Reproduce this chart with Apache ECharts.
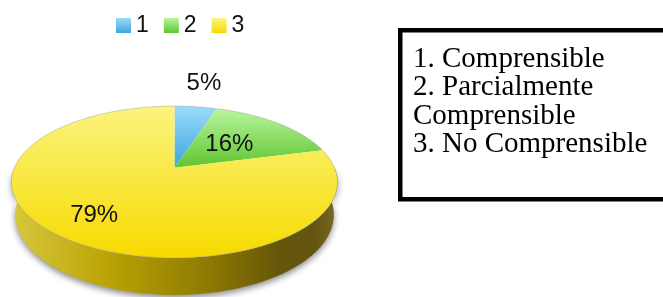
<!DOCTYPE html>
<html>
<head>
<meta charset="utf-8">
<script src="https://cdn.jsdelivr.net/npm/echarts@6/dist/echarts.min.js"></script>
<style>
html,body{margin:0;padding:0;background:#fff;}
#chart{width:663px;height:297px;}
</style>
</head>
<body>
<div id="chart"></div>
<script>
// ---- data ----
const categories = ['1', '2', '3'];
const values = [5, 16, 79];
const valueLabels = ['5%', '16%', '79%'];
const noteLines = ['1. Comprensible', '2. Parcialmente', 'Comprensible', '3. No Comprensible'];

// ---- style ----
const topColors = [['#9adcfa', '#3ca5dc'], ['#b8f69c', '#60c430'], ['#fbf47e', '#f7da00']];

// ---- 3D pie projection (perspective view of a flat cylinder) ----
const CX = 174.5, CY = 167.7;       // projected disk centre
const F = 160.1;                      // focal * R / D
const RD = 0.2115;                    // R / D
const ALPHA = 27.2 * Math.PI / 180;   // view elevation
const H = 0.2316;                     // thickness (in radii)
const SA = Math.sin(ALPHA), CA = Math.cos(ALPHA);

function project(deg, rho, y) {
  const t = deg * Math.PI / 180;
  const X = rho * Math.sin(t), Z = rho * Math.cos(t);
  const den = 1 + RD * (Z * CA - y * SA);
  return [CX + F * X / den, CY - F * (Z * SA + y * CA) / den];
}
function arc(a0, a1, y) {
  const pts = [];
  const n = Math.max(2, Math.ceil(Math.abs(a1 - a0)));
  for (let k = 0; k <= n; k++) pts.push(project(a0 + (a1 - a0) * k / n, 1, y));
  return pts;
}
const total = values.reduce((a, b) => a + b, 0);

function renderItem(params, api) {
  const i = params.seriesIndex;
  let before = 0;
  for (let k = 0; k < i; k++) before += values[k];
  const v = api.value(0);
  const start = before / total * 360;
  const end = (before + v) / total * 360;
  const children = [];

  // visible side wall (front half)
  const a0 = Math.max(start, 90), a1 = Math.min(end, 270);
  if (a1 > a0) {
    const pts = arc(a0, a1, 0).concat(arc(a1, a0, -H));
    children.push({
      type: 'polygon', z2: 1,
      shape: { points: pts },
      style: {
        fill: {
          type: 'linear', x: 0, y: 0, x2: 1, y2: 0,
          colorStops: [
            { offset: 0, color: '#d8c83e' },
            { offset: 0.3, color: '#b9a305' },
            { offset: 0.6, color: '#8e7a02' },
            { offset: 0.82, color: '#655709' },
            { offset: 0.93, color: '#625512' },
            { offset: 1, color: '#7a6b26' }
          ]
        },
        shadowBlur: 6, shadowOffsetY: 3, shadowColor: 'rgba(0,0,0,0.45)'
      }
    });
  }
  // top face
  const topPts = [[CX, CY]].concat(arc(start, end, 0));
  children.push({
    type: 'polygon', z2: 10,
    shape: { points: topPts },
    style: {
      fill: {
        type: 'linear', x: 0, y: 0, x2: 0, y2: 1,
        colorStops: [
          { offset: 0, color: topColors[i][0] },
          { offset: 1, color: topColors[i][1] }
        ]
      }
    }
  });
  // rim line
  children.push({
    type: 'polyline', z2: 11,
    shape: { points: arc(start, end, 0) },
    style: { stroke: 'rgba(150,150,150,0.55)', lineWidth: 0.8, fill: null }
  });
  // label
  const frac = v / total;
  const rho = frac < 0.1 ? 1.5 : (frac < 0.5 ? 0.5 : 0.73);
  const lp = project((start + end) / 2, rho, 0);
  children.push({
    type: 'text', z2: 20,
    x: lp[0], y: lp[1],
    style: {
      text: valueLabels[i], fill: '#111',
      font: '24px "Liberation Sans", Arial, sans-serif',
      align: 'center', verticalAlign: 'middle'
    }
  });
  return { type: 'group', children: children };
}

const series = categories.map((name, i) => ({
  type: 'custom',
  name: name,
  coordinateSystem: 'none',
  renderItem: renderItem,
  data: [[values[i]]],
  itemStyle: {
    color: {
      type: 'linear', x: 0, y: 0, x2: 0, y2: 1,
      colorStops: [
        { offset: 0, color: topColors[i][0] },
        { offset: 1, color: topColors[i][1] }
      ]
    }
  },
  silent: true
}));

const chart = echarts.init(document.getElementById('chart'), null, { renderer: 'canvas' });
chart.setOption({
  animation: false,
  backgroundColor: '#fff',
  legend: {
    data: categories,
    left: 111, top: 9,
    icon: 'rect', itemWidth: 15, itemHeight: 15, itemGap: 15,
    formatter: '{t|{name}}',
    textStyle: {
      fontSize: 23, fontFamily: 'Liberation Sans', color: '#111',
      rich: { t: { fontSize: 23, fontFamily: 'Liberation Sans', color: '#111', lineHeight: 24 } }
    },
    selectedMode: false
  },
  graphic: [
    {
      type: 'rect',
      shape: { x: 400.25, y: 30.25, width: 300, height: 169 },
      style: { fill: '#fff', stroke: '#000', lineWidth: 4.5 }
    },
    {
      type: 'text',
      x: 413, y: 45,
      style: {
        text: noteLines.join('\n'),
        font: '29px "Liberation Serif", "Times New Roman", serif',
        lineHeight: 28.5, fill: '#000'
      }
    }
  ],
  series: series
});
</script>
</body>
</html>
